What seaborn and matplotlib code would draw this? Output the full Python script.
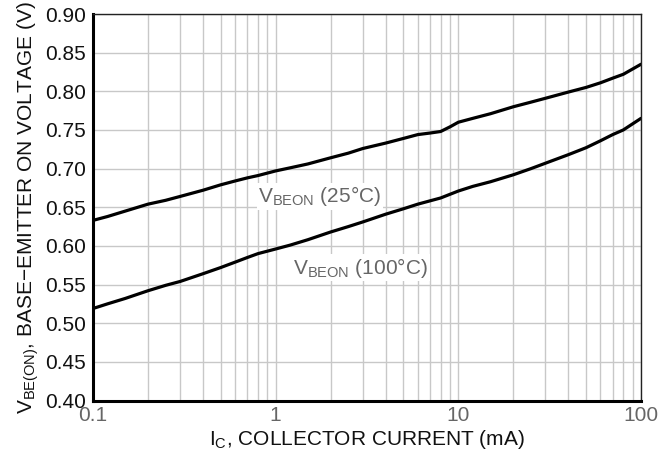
import matplotlib
matplotlib.use("Agg")
import matplotlib.pyplot as plt
import matplotlib.ticker as mticker
import seaborn as sns
import pandas as pd
import numpy as np

# Data
ic_25 = [0.1, 0.12, 0.15, 0.2, 0.25, 0.3, 0.4, 0.5, 0.6, 0.7, 0.8, 1.0, 1.2, 1.5, 2.0, 2.5, 3.0, 4.0, 5.0, 6.0, 7.0, 8.0, 9.0, 10.0, 12.0, 15.0, 20.0, 25.0, 30.0, 40.0, 50.0, 60.0, 70.0, 80.0, 100.0]
v_25 = [0.633, 0.638, 0.645, 0.654, 0.659, 0.664, 0.672, 0.679, 0.684, 0.688, 0.691, 0.697, 0.701, 0.706, 0.714, 0.720, 0.726, 0.733, 0.739, 0.744, 0.746, 0.748, 0.754, 0.760, 0.765, 0.771, 0.780, 0.786, 0.791, 0.799, 0.805, 0.811, 0.817, 0.822, 0.835]
ic_100 = [0.1, 0.12, 0.15, 0.2, 0.25, 0.3, 0.4, 0.5, 0.6, 0.7, 0.8, 1.0, 1.2, 1.5, 2.0, 2.5, 3.0, 4.0, 5.0, 6.0, 8.0, 10.0, 12.0, 15.0, 20.0, 25.0, 30.0, 40.0, 50.0, 60.0, 70.0, 80.0, 100.0]
v_100 = [0.519, 0.525, 0.532, 0.542, 0.549, 0.554, 0.564, 0.572, 0.579, 0.585, 0.590, 0.596, 0.601, 0.608, 0.618, 0.625, 0.631, 0.641, 0.648, 0.654, 0.662, 0.671, 0.677, 0.683, 0.692, 0.700, 0.707, 0.718, 0.727, 0.736, 0.744, 0.750, 0.765]

x_ticks = [0.1, 1, 10, 100]
x_tick_labels = ["0.1", "1", "10", "100"]
y_ticks = [0.40, 0.45, 0.50, 0.55, 0.60, 0.65, 0.70, 0.75, 0.80, 0.85, 0.90]

df = pd.concat([
    pd.DataFrame({"ic": ic_25, "v": v_25, "series": "25"}),
    pd.DataFrame({"ic": ic_100, "v": v_100, "series": "100"}),
])

sns.set_style("white")
plt.rcParams["font.family"] = ["Liberation Sans", "DejaVu Sans"]
plt.rcParams["mathtext.default"] = "regular"

FS = 15

fig = plt.figure(figsize=(6.64, 4.62), dpi=100)
ax = fig.add_axes([93 / 664, 1 - 400.5 / 462, (641 - 93) / 664, (400.5 - 14) / 462])

ax.set_xscale("log")
ax.set_xlim(0.1, 100)
ax.set_ylim(0.40, 0.90)

ax.xaxis.set_major_locator(mticker.FixedLocator(x_ticks))
ax.xaxis.set_major_formatter(mticker.FixedFormatter(x_tick_labels))
ax.xaxis.set_minor_locator(mticker.LogLocator(base=10, subs=np.arange(2, 10)))
ax.xaxis.set_minor_formatter(mticker.NullFormatter())
ax.set_yticks(y_ticks)
ax.set_yticklabels([f"{v:.2f}" for v in y_ticks])

ax.grid(True, which="both", axis="x", color="#c8c8c8", linewidth=1.0)
ax.grid(True, which="major", axis="y", color="#c8c8c8", linewidth=1.0)
ax.set_axisbelow(True)

for s in ["25", "100"]:
    sns.lineplot(data=df[df["series"] == s], x="ic", y="v", ax=ax,
                 color="black", linewidth=2.3, legend=False, estimator=None, sort=False)

ax.tick_params(axis="both", which="both", length=0)
ax.tick_params(axis="y", labelsize=FS, labelcolor="#111111", pad=5)
ax.tick_params(axis="x", labelsize=FS, labelcolor="#666666", pad=4)

for side in ["left", "bottom"]:
    ax.spines[side].set_linewidth(2.2)
    ax.spines[side].set_color("black")
for side in ["top", "right"]:
    ax.spines[side].set_linewidth(1.0)
    ax.spines[side].set_color("#222222")

ax.set_xlabel("$I_C$, COLLECTOR CURRENT (mA)", fontsize=FS, color="#111111", labelpad=2)
ax.set_ylabel("$V_{BE(ON)}$, BASE\u2212EMITTER ON VOLTAGE (V)", fontsize=FS, color="#111111", labelpad=3)

bbox = dict(facecolor="white", edgecolor="none", pad=1.0)
ax.text(0.8, 0.664, "$V_{BEON}$ (25\u00b0C)", fontsize=FS, color="#666666",
        va="center", ha="left", bbox=bbox)
ax.text(1.25, 0.572, "$V_{BEON}$ (100\u00b0C)", fontsize=FS, color="#666666",
        va="center", ha="left", bbox=bbox)

fig.savefig("out.png", dpi=100)
